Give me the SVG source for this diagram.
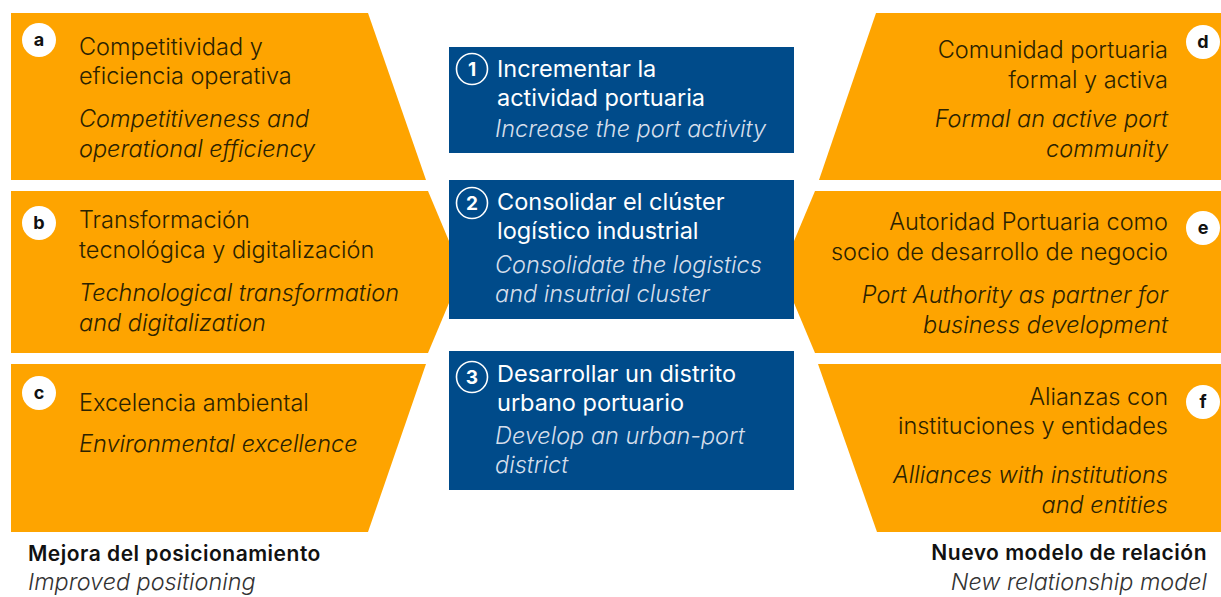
<svg xmlns="http://www.w3.org/2000/svg" width="1221" height="597" viewBox="0 0 1221 597">
  <style>
    .pill { fill: #FEA400; }
    .goal { fill: #004B8A; }
    .es { font-family: Inter, "Liberation Sans", sans-serif; font-weight: 300; font-size: 23.5px; fill: #2B2200; }
    .en { font-family: Inter, "Liberation Sans", sans-serif; font-weight: 300; font-style: italic; font-size: 23.5px; fill: #2B2200; }
    .r { text-anchor: end; }
    .badge { fill: #FFFFFF; }
    .tag { font-family: Inter, "Liberation Sans", sans-serif; font-weight: 700; font-size: 18px; fill: #111111; text-anchor: middle; }
    .gt { font-family: Inter, "Liberation Sans", sans-serif; font-weight: 400; font-size: 23.5px; fill: #FFFFFF; }
    .ge { font-family: Inter, "Liberation Sans", sans-serif; font-weight: 300; font-style: italic; font-size: 23.5px; fill: #D5DEEB; }
    .ring { fill: none; stroke: #FFFFFF; stroke-width: 1.6; }
    .num { font-family: Inter, "Liberation Sans", sans-serif; font-weight: 700; font-size: 19px; fill: #FFFFFF; text-anchor: middle; }
    .cap { font-family: Inter, "Liberation Sans", sans-serif; font-weight: 600; font-size: 21px; letter-spacing: 0.5px; fill: #111111; }
    .sub { font-family: Inter, "Liberation Sans", sans-serif; font-weight: 300; font-style: italic; font-size: 23.4px; fill: #333333; }
  </style>

  <!-- left column: positioning -->
  <g id="node-a">
    <polygon class="pill" points="11,13 368,13 426,180 11,180"/>
    <circle class="badge" cx="39" cy="40" r="17"/>
    <text class="tag" x="39" y="46">a</text>
    <text class="es" x="79" y="55">Competitividad y</text>
    <text class="es" x="79" y="84">eficiencia operativa</text>
    <text class="en" x="79" y="127">Competitiveness and</text>
    <text class="en" x="79" y="157">operational efficiency</text>
  </g>
  <g id="node-b">
    <polygon class="pill" points="11,191 428,191 462,272 428,353 11,353"/>
    <circle class="badge" cx="39" cy="223" r="17"/>
    <text class="tag" x="39" y="229">b</text>
    <text class="es" x="79" y="228">Transformación</text>
    <text class="es" x="79" y="258">tecnológica y digitalización</text>
    <text class="en" x="79" y="301">Technological transformation</text>
    <text class="en" x="79" y="331">and digitalization</text>
  </g>
  <g id="node-c">
    <polygon class="pill" points="11,364 426,364 368,532 11,532"/>
    <circle class="badge" cx="39" cy="393" r="17"/>
    <text class="tag" x="39" y="399">c</text>
    <text class="es" x="79" y="411">Excelencia ambiental</text>
    <text class="en" x="79" y="452">Environmental excellence</text>
  </g>

  <!-- right column: relationship model -->
  <g id="node-d">
    <polygon class="pill" points="876,13 1221,13 1221,180 819,180"/>
    <circle class="badge" cx="1203" cy="42" r="17"/>
    <text class="tag" x="1203" y="48">d</text>
    <text class="es r" x="1168" y="58">Comunidad portuaria</text>
    <text class="es r" x="1168" y="88">formal y activa</text>
    <text class="en r" x="1168" y="127">Formal an active port</text>
    <text class="en r" x="1168" y="157">community</text>
  </g>
  <g id="node-e">
    <polygon class="pill" points="815,191 1221,191 1221,353 815,353 781,272"/>
    <circle class="badge" cx="1203" cy="228" r="17"/>
    <text class="tag" x="1203" y="234">e</text>
    <text class="es r" x="1168" y="230">Autoridad Portuaria como</text>
    <text class="es r" x="1168" y="260">socio de desarrollo de negocio</text>
    <text class="en r" x="1168" y="303">Port Authority as partner for</text>
    <text class="en r" x="1168" y="333">business development</text>
  </g>
  <g id="node-f">
    <polygon class="pill" points="818,364 1221,364 1221,532 877,532"/>
    <circle class="badge" cx="1203" cy="402" r="17"/>
    <text class="tag" x="1203" y="408">f</text>
    <text class="es r" x="1168" y="405">Alianzas con</text>
    <text class="es r" x="1168" y="434">instituciones y entidades</text>
    <text class="en r" x="1168" y="483">Alliances with institutions</text>
    <text class="en r" x="1168" y="513">and entities</text>
  </g>

  <!-- central goals -->
  <g id="goal-1">
    <rect class="goal" x="449" y="47" width="345" height="106"/>
    <circle class="ring" cx="472" cy="69" r="15.5"/>
    <text class="num" x="472" y="76">1</text>
    <text class="gt" x="497" y="77">Incrementar la</text>
    <text class="gt" x="497" y="106">actividad portuaria</text>
    <text class="ge" x="495" y="137">Increase the port activity</text>
  </g>
  <g id="goal-2">
    <rect class="goal" x="449" y="180" width="345" height="139"/>
    <circle class="ring" cx="472" cy="203" r="15.5"/>
    <text class="num" x="472" y="210">2</text>
    <text class="gt" x="497" y="210">Consolidar el clúster</text>
    <text class="gt" x="497" y="239">logístico industrial</text>
    <text class="ge" x="495" y="273">Consolidate the logistics</text>
    <text class="ge" x="495" y="302">and insutrial cluster</text>
  </g>
  <g id="goal-3">
    <rect class="goal" x="449" y="351" width="345" height="139"/>
    <circle class="ring" cx="472" cy="377" r="15.5"/>
    <text class="num" x="472" y="384">3</text>
    <text class="gt" x="497" y="382">Desarrollar un distrito</text>
    <text class="gt" x="497" y="411">urbano portuario</text>
    <text class="ge" x="495" y="444">Develop an urban-port</text>
    <text class="ge" x="495" y="473">district</text>
  </g>

  <!-- column captions -->
  <g id="caption-left">
    <text class="cap" x="28" y="561">Mejora del posicionamiento</text>
    <text class="sub" x="28" y="590">Improved positioning</text>
  </g>
  <g id="caption-right">
    <text class="cap" x="1207" y="560" text-anchor="end">Nuevo modelo de relación</text>
    <text class="sub" x="1207" y="590" text-anchor="end">New relationship model</text>
  </g>
</svg>
